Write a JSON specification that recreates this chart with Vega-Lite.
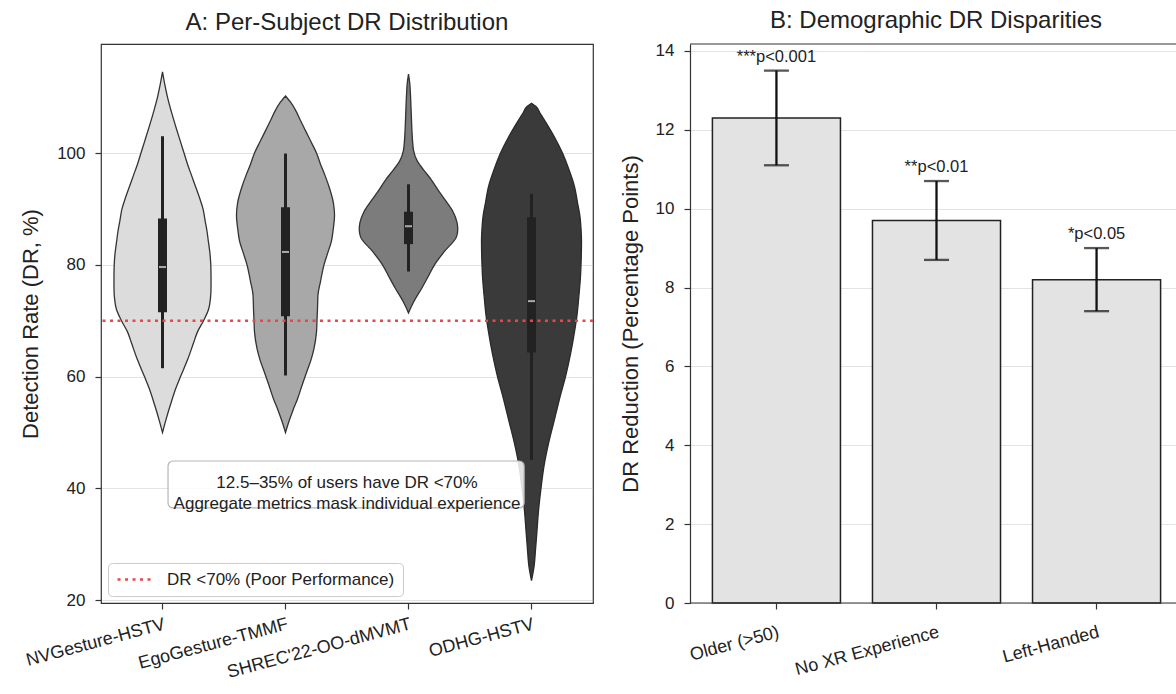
{
  "$schema": "https://vega.github.io/schema/vega-lite/v6.json",
  "background": "white",
  "padding": {"left": 19, "top": 8, "right": 0, "bottom": 0},
  "spacing": 97,
  "bounds": "flush",
  "config": {
    "font": "Liberation Sans",
    "view": {"stroke": "#333333", "strokeWidth": 1.2},
    "axis": {"domain": false, "tickColor": "#333333", "tickSize": 6, "tickWidth": 1.2, "labelFontSize": 17, "labelColor": "#222222", "labelPadding": 10, "titleFontSize": 22, "titleFontWeight": "normal", "titleColor": "#222222", "gridColor": "#b0b0b0", "gridOpacity": 0.35, "gridWidth": 1.2},
    "axisX": {"grid": false, "labelPadding": 6, "labelFontSize": 18, "labelLimit": 400},
    "axisY": {"grid": true, "titlePadding": 14, "zindex": 1},
    "title": {"fontSize": 24, "fontWeight": "normal", "color": "#222222", "offset": 9, "frame": "group"}
  },
  "datasets": {
    "violin": [
      {"ds": "NVGesture-HSTV", "dr": 50.0, "w": 0},
      {"ds": "NVGesture-HSTV", "dr": 52, "w": 0.049},
      {"ds": "NVGesture-HSTV", "dr": 55, "w": 0.130},
      {"ds": "NVGesture-HSTV", "dr": 58, "w": 0.220},
      {"ds": "NVGesture-HSTV", "dr": 60, "w": 0.293},
      {"ds": "NVGesture-HSTV", "dr": 63, "w": 0.407},
      {"ds": "NVGesture-HSTV", "dr": 66, "w": 0.504},
      {"ds": "NVGesture-HSTV", "dr": 68, "w": 0.569},
      {"ds": "NVGesture-HSTV", "dr": 70, "w": 0.667},
      {"ds": "NVGesture-HSTV", "dr": 72, "w": 0.748},
      {"ds": "NVGesture-HSTV", "dr": 74, "w": 0.780},
      {"ds": "NVGesture-HSTV", "dr": 76, "w": 0.789},
      {"ds": "NVGesture-HSTV", "dr": 78, "w": 0.789},
      {"ds": "NVGesture-HSTV", "dr": 80, "w": 0.785},
      {"ds": "NVGesture-HSTV", "dr": 82, "w": 0.772},
      {"ds": "NVGesture-HSTV", "dr": 84, "w": 0.748},
      {"ds": "NVGesture-HSTV", "dr": 86, "w": 0.724},
      {"ds": "NVGesture-HSTV", "dr": 88, "w": 0.691},
      {"ds": "NVGesture-HSTV", "dr": 90, "w": 0.659},
      {"ds": "NVGesture-HSTV", "dr": 92, "w": 0.602},
      {"ds": "NVGesture-HSTV", "dr": 94, "w": 0.537},
      {"ds": "NVGesture-HSTV", "dr": 96, "w": 0.472},
      {"ds": "NVGesture-HSTV", "dr": 98, "w": 0.407},
      {"ds": "NVGesture-HSTV", "dr": 100, "w": 0.350},
      {"ds": "NVGesture-HSTV", "dr": 102, "w": 0.293},
      {"ds": "NVGesture-HSTV", "dr": 104, "w": 0.236},
      {"ds": "NVGesture-HSTV", "dr": 107, "w": 0.154},
      {"ds": "NVGesture-HSTV", "dr": 110, "w": 0.081},
      {"ds": "NVGesture-HSTV", "dr": 112.5, "w": 0.033},
      {"ds": "NVGesture-HSTV", "dr": 114.5, "w": 0},
      {"ds": "EgoGesture-TMMF", "dr": 50, "w": 0},
      {"ds": "EgoGesture-TMMF", "dr": 52, "w": 0.057},
      {"ds": "EgoGesture-TMMF", "dr": 54, "w": 0.122},
      {"ds": "EgoGesture-TMMF", "dr": 56, "w": 0.195},
      {"ds": "EgoGesture-TMMF", "dr": 58.4, "w": 0.268},
      {"ds": "EgoGesture-TMMF", "dr": 61, "w": 0.350},
      {"ds": "EgoGesture-TMMF", "dr": 63, "w": 0.415},
      {"ds": "EgoGesture-TMMF", "dr": 65, "w": 0.463},
      {"ds": "EgoGesture-TMMF", "dr": 68, "w": 0.504},
      {"ds": "EgoGesture-TMMF", "dr": 70, "w": 0.512},
      {"ds": "EgoGesture-TMMF", "dr": 72, "w": 0.520},
      {"ds": "EgoGesture-TMMF", "dr": 74.6, "w": 0.528},
      {"ds": "EgoGesture-TMMF", "dr": 77, "w": 0.569},
      {"ds": "EgoGesture-TMMF", "dr": 80, "w": 0.626},
      {"ds": "EgoGesture-TMMF", "dr": 82, "w": 0.683},
      {"ds": "EgoGesture-TMMF", "dr": 84.3, "w": 0.748},
      {"ds": "EgoGesture-TMMF", "dr": 86, "w": 0.772},
      {"ds": "EgoGesture-TMMF", "dr": 88.9, "w": 0.797},
      {"ds": "EgoGesture-TMMF", "dr": 91, "w": 0.780},
      {"ds": "EgoGesture-TMMF", "dr": 94, "w": 0.707},
      {"ds": "EgoGesture-TMMF", "dr": 96, "w": 0.642},
      {"ds": "EgoGesture-TMMF", "dr": 98, "w": 0.569},
      {"ds": "EgoGesture-TMMF", "dr": 100, "w": 0.504},
      {"ds": "EgoGesture-TMMF", "dr": 102, "w": 0.415},
      {"ds": "EgoGesture-TMMF", "dr": 104, "w": 0.325},
      {"ds": "EgoGesture-TMMF", "dr": 106, "w": 0.236},
      {"ds": "EgoGesture-TMMF", "dr": 107.5, "w": 0.171},
      {"ds": "EgoGesture-TMMF", "dr": 109, "w": 0.089},
      {"ds": "EgoGesture-TMMF", "dr": 110.2, "w": 0},
      {"ds": "SHREC'22-OO-dMVMT", "dr": 71.4, "w": 0},
      {"ds": "SHREC'22-OO-dMVMT", "dr": 73.3, "w": 0.081},
      {"ds": "SHREC'22-OO-dMVMT", "dr": 75.9, "w": 0.220},
      {"ds": "SHREC'22-OO-dMVMT", "dr": 78, "w": 0.325},
      {"ds": "SHREC'22-OO-dMVMT", "dr": 80, "w": 0.423},
      {"ds": "SHREC'22-OO-dMVMT", "dr": 82.4, "w": 0.585},
      {"ds": "SHREC'22-OO-dMVMT", "dr": 85, "w": 0.780},
      {"ds": "SHREC'22-OO-dMVMT", "dr": 86.3, "w": 0.801},
      {"ds": "SHREC'22-OO-dMVMT", "dr": 87.6, "w": 0.789},
      {"ds": "SHREC'22-OO-dMVMT", "dr": 89.5, "w": 0.724},
      {"ds": "SHREC'22-OO-dMVMT", "dr": 91.4, "w": 0.610},
      {"ds": "SHREC'22-OO-dMVMT", "dr": 93, "w": 0.504},
      {"ds": "SHREC'22-OO-dMVMT", "dr": 95.3, "w": 0.366},
      {"ds": "SHREC'22-OO-dMVMT", "dr": 97, "w": 0.244},
      {"ds": "SHREC'22-OO-dMVMT", "dr": 98.5, "w": 0.146},
      {"ds": "SHREC'22-OO-dMVMT", "dr": 100.5, "w": 0.081},
      {"ds": "SHREC'22-OO-dMVMT", "dr": 103.8, "w": 0.057},
      {"ds": "SHREC'22-OO-dMVMT", "dr": 107, "w": 0.045},
      {"ds": "SHREC'22-OO-dMVMT", "dr": 110.2, "w": 0.033},
      {"ds": "SHREC'22-OO-dMVMT", "dr": 112.5, "w": 0.020},
      {"ds": "SHREC'22-OO-dMVMT", "dr": 114.1, "w": 0},
      {"ds": "ODHG-HSTV", "dr": 23.5, "w": 0},
      {"ds": "ODHG-HSTV", "dr": 26, "w": 0.041},
      {"ds": "ODHG-HSTV", "dr": 29, "w": 0.065},
      {"ds": "ODHG-HSTV", "dr": 32.4, "w": 0.089},
      {"ds": "ODHG-HSTV", "dr": 36, "w": 0.114},
      {"ds": "ODHG-HSTV", "dr": 40, "w": 0.154},
      {"ds": "ODHG-HSTV", "dr": 44, "w": 0.203},
      {"ds": "ODHG-HSTV", "dr": 48, "w": 0.276},
      {"ds": "ODHG-HSTV", "dr": 52, "w": 0.366},
      {"ds": "ODHG-HSTV", "dr": 56, "w": 0.455},
      {"ds": "ODHG-HSTV", "dr": 60, "w": 0.553},
      {"ds": "ODHG-HSTV", "dr": 64, "w": 0.634},
      {"ds": "ODHG-HSTV", "dr": 68, "w": 0.699},
      {"ds": "ODHG-HSTV", "dr": 71, "w": 0.740},
      {"ds": "ODHG-HSTV", "dr": 74.6, "w": 0.772},
      {"ds": "ODHG-HSTV", "dr": 78, "w": 0.797},
      {"ds": "ODHG-HSTV", "dr": 80, "w": 0.805},
      {"ds": "ODHG-HSTV", "dr": 84.3, "w": 0.813},
      {"ds": "ODHG-HSTV", "dr": 86.5, "w": 0.805},
      {"ds": "ODHG-HSTV", "dr": 88.9, "w": 0.785},
      {"ds": "ODHG-HSTV", "dr": 91, "w": 0.750},
      {"ds": "ODHG-HSTV", "dr": 94, "w": 0.699},
      {"ds": "ODHG-HSTV", "dr": 97, "w": 0.610},
      {"ds": "ODHG-HSTV", "dr": 100, "w": 0.504},
      {"ds": "ODHG-HSTV", "dr": 103, "w": 0.366},
      {"ds": "ODHG-HSTV", "dr": 105, "w": 0.260},
      {"ds": "ODHG-HSTV", "dr": 107, "w": 0.146},
      {"ds": "ODHG-HSTV", "dr": 108.3, "w": 0.073},
      {"ds": "ODHG-HSTV", "dr": 108.9, "w": 0}
    ],
    "box": [
      {"ds": "NVGesture-HSTV", "wlo": 61.5, "whi": 103.0, "q1": 71.5, "q3": 88.3, "med": 79.6},
      {"ds": "EgoGesture-TMMF", "wlo": 60.2, "whi": 99.9, "q1": 70.8, "q3": 90.3, "med": 82.3},
      {"ds": "SHREC'22-OO-dMVMT", "wlo": 78.8, "whi": 94.4, "q1": 83.7, "q3": 89.5, "med": 86.9},
      {"ds": "ODHG-HSTV", "wlo": 45.1, "whi": 92.7, "q1": 64.3, "q3": 88.5, "med": 73.5}
    ],
    "demo": [
      {"grp": "Older (>50)", "val": 12.3, "lo": 11.1, "hi": 13.5, "p": "***p<0.001"},
      {"grp": "No XR Experience", "val": 9.7, "lo": 8.7, "hi": 10.7, "p": "**p<0.01"},
      {"grp": "Left-Handed", "val": 8.2, "lo": 7.4, "hi": 9.0, "p": "*p<0.05"}
    ]
  },
  "hconcat": [
    {
      "width": 492,
      "height": 559,
      "title": {"text": "A: Per-Subject DR Distribution"},
      "layer": [
        {
          "data": {"name": "violin"},
          "transform": [{"filter": {"field": "ds", "equal": "NVGesture-HSTV"}}],
          "mark": {"type": "area", "orient": "horizontal", "interpolate": "monotone", "fill": "#dcdcdc", "stroke": "#333333", "strokeWidth": 1.3},
          "encoding": {
            "y": {"field": "dr", "type": "quantitative", "title": "Detection Rate (DR, %)", "scale": {"domain": [19.5, 119.5], "nice": false, "zero": false}, "axis": {"values": [20, 40, 60, 80, 100]}},
            "x": {"field": "w", "type": "quantitative", "stack": "center", "scale": {"domain": [-0.1055, 3.8945], "nice": false, "zero": false}, "axis": null}
          }
        },
        {
          "data": {"name": "violin"},
          "transform": [{"filter": {"field": "ds", "equal": "EgoGesture-TMMF"}}],
          "mark": {"type": "area", "orient": "horizontal", "interpolate": "monotone", "fill": "#a8a8a8", "stroke": "#333333", "strokeWidth": 1.3},
          "encoding": {
            "y": {"field": "dr", "type": "quantitative", "title": "Detection Rate (DR, %)", "scale": {"domain": [19.5, 119.5], "nice": false, "zero": false}},
            "x": {"field": "w", "type": "quantitative", "stack": "center", "scale": {"domain": [-1.1015, 2.8985], "nice": false, "zero": false}, "axis": null}
          }
        },
        {
          "data": {"name": "violin"},
          "transform": [{"filter": {"field": "ds", "equal": "SHREC'22-OO-dMVMT"}}],
          "mark": {"type": "area", "orient": "horizontal", "interpolate": "monotone", "fill": "#7c7c7c", "stroke": "#333333", "strokeWidth": 1.3},
          "encoding": {
            "y": {"field": "dr", "type": "quantitative", "title": "Detection Rate (DR, %)", "scale": {"domain": [19.5, 119.5], "nice": false, "zero": false}},
            "x": {"field": "w", "type": "quantitative", "stack": "center", "scale": {"domain": [-2.0995, 1.9005], "nice": false, "zero": false}, "axis": null}
          }
        },
        {
          "data": {"name": "violin"},
          "transform": [{"filter": {"field": "ds", "equal": "ODHG-HSTV"}}],
          "mark": {"type": "area", "orient": "horizontal", "interpolate": "monotone", "fill": "#3a3a3a", "stroke": "#2a2a2a", "strokeWidth": 1.3},
          "encoding": {
            "y": {"field": "dr", "type": "quantitative", "title": "Detection Rate (DR, %)", "scale": {"domain": [19.5, 119.5], "nice": false, "zero": false}},
            "x": {"field": "w", "type": "quantitative", "stack": "center", "scale": {"domain": [-3.0935, 0.9065], "nice": false, "zero": false}, "axis": null}
          }
        },
        {
          "data": {"name": "box"},
          "encoding": {
            "x": {"field": "ds", "type": "nominal", "sort": null, "scale": {"paddingInner": 0, "paddingOuter": 0}, "axis": {"title": null, "labelAngle": -15, "labelAlign": "right", "labelBaseline": "top"}}
          },
          "layer": [
            {
              "mark": {"type": "rule", "color": "#222222", "strokeWidth": 3},
              "encoding": {
                "y": {"field": "wlo", "type": "quantitative", "title": "Detection Rate (DR, %)", "scale": {"domain": [19.5, 119.5], "nice": false, "zero": false}},
                "y2": {"field": "whi"}
              }
            },
            {
              "mark": {"type": "bar", "color": "#222222", "size": 9},
              "encoding": {
                "y": {"field": "q1", "type": "quantitative", "title": "Detection Rate (DR, %)", "scale": {"domain": [19.5, 119.5], "nice": false, "zero": false}},
                "y2": {"field": "q3"}
              }
            },
            {
              "mark": {"type": "tick", "color": "#e6e6e6", "size": 7, "thickness": 2, "orient": "horizontal"},
              "encoding": {
                "y": {"field": "med", "type": "quantitative", "title": "Detection Rate (DR, %)", "scale": {"domain": [19.5, 119.5], "nice": false, "zero": false}}
              }
            }
          ]
        },
        {
          "data": {"values": [{}]},
          "mark": {"type": "rule", "strokeDash": [3, 4.5], "strokeWidth": 2.5},
          "encoding": {
            "y": {"datum": 70, "type": "quantitative", "title": "Detection Rate (DR, %)", "scale": {"domain": [19.5, 119.5], "nice": false, "zero": false}},
            "stroke": {"datum": "DR <70% (Poor Performance)", "type": "nominal", "scale": {"range": ["#e8484b"]}, "legend": {"title": null, "orient": "bottom-left", "offset": 7, "fillColor": "white", "strokeColor": "#cccccc", "padding": 8, "cornerRadius": 4, "symbolType": "stroke", "symbolSize": 1150, "symbolStrokeWidth": 2.5, "symbolDash": [3, 4.5], "clipHeight": 17, "labelFontSize": 17, "labelColor": "#222222", "labelOffset": 14, "labelLimit": 500}}
          }
        },
        {
          "data": {"values": [{}]},
          "mark": {"type": "rect", "fill": "white", "fillOpacity": 0.85, "stroke": "#b5b5b5", "strokeWidth": 1.2, "cornerRadius": 5},
          "encoding": {
            "x": {"datum": 0.045, "type": "quantitative", "scale": {"domain": [-0.5, 3.5], "nice": false, "zero": false}, "axis": null},
            "x2": {"datum": 2.94},
            "y": {"datum": 36.5, "type": "quantitative", "title": "Detection Rate (DR, %)", "scale": {"domain": [19.5, 119.5], "nice": false, "zero": false}},
            "y2": {"datum": 44.9}
          }
        },
        {
          "data": {"values": [{}]},
          "mark": {"type": "text", "text": ["12.5–35% of users have DR <70%", "Aggregate metrics mask individual experience"], "fontSize": 17, "color": "#222222", "lineHeight": 21, "align": "center", "baseline": "middle"},
          "encoding": {
            "x": {"datum": 1.5, "type": "quantitative", "scale": {"domain": [-0.5, 3.5], "nice": false, "zero": false}, "axis": null},
            "y": {"datum": 40.9, "type": "quantitative", "title": "Detection Rate (DR, %)", "scale": {"domain": [19.5, 119.5], "nice": false, "zero": false}}
          }
        }
      ],
      "resolve": {"scale": {"x": "independent"}}
    },
    {
      "width": 486,
      "height": 559,
      "view": {"stroke": null},
      "title": {"text": "B: Demographic DR Disparities", "dx": 3},
      "layer": [
        {
          "data": {"name": "demo"},
          "encoding": {
            "x": {"field": "grp", "type": "nominal", "sort": null, "scale": {"paddingInner": 0.2, "paddingOuter": 0.14, "rangeMax": 493}, "axis": {"title": null, "labelAngle": -15, "labelAlign": "right", "labelBaseline": "top", "labelPadding": 14}}
          },
          "layer": [
            {
              "mark": {"type": "bar", "fill": "#e3e3e3", "stroke": "#222222", "strokeWidth": 1.5},
              "encoding": {
                "y": {"field": "val", "type": "quantitative", "title": "DR Reduction (Percentage Points)", "scale": {"domain": [0, 14.175], "nice": false}, "axis": {"values": [0, 2, 4, 6, 8, 10, 12, 14], "domain": true, "domainColor": "#333333", "domainWidth": 1.2, "titlePadding": 13}}
              }
            },
            {
              "mark": {"type": "rule", "color": "#111111", "strokeWidth": 2.3},
              "encoding": {
                "y": {"field": "lo", "type": "quantitative", "title": "DR Reduction (Percentage Points)", "scale": {"domain": [0, 14.175], "nice": false}},
                "y2": {"field": "hi"}
              }
            },
            {
              "mark": {"type": "tick", "color": "#111111", "size": 25, "thickness": 2.3, "orient": "horizontal"},
              "encoding": {
                "y": {"field": "lo", "type": "quantitative", "title": "DR Reduction (Percentage Points)", "scale": {"domain": [0, 14.175], "nice": false}}
              }
            },
            {
              "mark": {"type": "tick", "color": "#111111", "size": 25, "thickness": 2.3, "orient": "horizontal"},
              "encoding": {
                "y": {"field": "hi", "type": "quantitative", "title": "DR Reduction (Percentage Points)", "scale": {"domain": [0, 14.175], "nice": false}}
              }
            },
            {
              "mark": {"type": "text", "baseline": "bottom", "dy": -6, "fontSize": 16.5, "color": "#222222"},
              "encoding": {
                "y": {"field": "hi", "type": "quantitative", "title": "DR Reduction (Percentage Points)", "scale": {"domain": [0, 14.175], "nice": false}},
                "text": {"field": "p", "type": "nominal"}
              }
            }
          ]
        },
        {
          "data": {"values": [{}]},
          "mark": {"type": "rule", "color": "#333333", "strokeWidth": 1.2},
          "encoding": {"y": {"datum": 14.175, "type": "quantitative", "title": "DR Reduction (Percentage Points)", "scale": {"domain": [0, 14.175], "nice": false}}}
        },
        {
          "data": {"values": [{}]},
          "mark": {"type": "rule", "color": "#333333", "strokeWidth": 1.2},
          "encoding": {"y": {"datum": 0, "type": "quantitative", "title": "DR Reduction (Percentage Points)", "scale": {"domain": [0, 14.175], "nice": false}}}
        }
      ]
    }
  ]
}
